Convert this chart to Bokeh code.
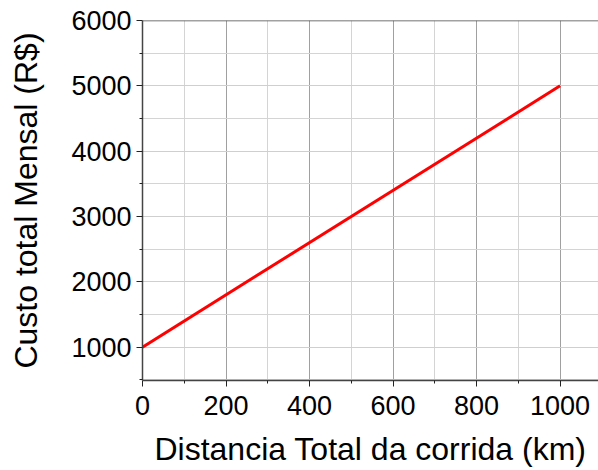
from bokeh.plotting import figure
from bokeh.models import Range1d, FixedTicker, Span
from bokeh.embed import file_html
from bokeh.resources import INLINE

# Data
distance_km = [0, 1000]
monthly_cost = [1000, 5000]

x_major = [0, 200, 400, 600, 800, 1000]
x_minor = [100, 300, 500, 700, 900]
y_major = [1000, 2000, 3000, 4000, 5000, 6000]
y_minor = [500, 1500, 2500, 3500, 4500, 5500]

x_label = "Distancia Total da corrida (km)"
y_label = "Custo total Mensal (R$)"

FONT = "Liberation Sans"
AXIS_COLOR = "#444444"

p = figure(width=598, height=470, output_backend="svg", toolbar_location=None,
           x_range=Range1d(0, 1092), y_range=Range1d(489, 6000),
           min_border_left=142, min_border_right=0, min_border_top=20,
           min_border_bottom=90)
p.outline_line_color = None
p.background_fill_color = "white"
p.border_fill_color = "white"

p.xaxis.ticker = FixedTicker(ticks=x_major, minor_ticks=x_minor)
p.yaxis.ticker = FixedTicker(ticks=y_major, minor_ticks=y_minor)

for ax in (p.xaxis, p.yaxis):
    ax.axis_line_color = AXIS_COLOR
    ax.axis_line_width = 1.5
    ax.major_tick_line_color = "#222222"
    ax.minor_tick_line_color = "#222222"
    ax.major_tick_in = 0
    ax.major_tick_out = 6
    ax.minor_tick_in = 0
    ax.minor_tick_out = 3
    ax.major_label_text_font = FONT
    ax.major_label_text_font_size = "27px"
    ax.major_label_text_color = "black"
    ax.axis_label_text_font = FONT
    ax.axis_label_text_font_size = "32px"
    ax.axis_label_text_font_style = "normal"
    ax.axis_label_text_color = "black"

p.xaxis.axis_label = x_label
p.yaxis.axis_label = y_label
p.xaxis.major_label_standoff = 9
p.yaxis.major_label_standoff = 5
p.xaxis.axis_label_standoff = 13
p.yaxis.axis_label_standoff = 24

p.xgrid.grid_line_color = "#a0a0a0"
p.xgrid.minor_grid_line_color = "#d4d4d4"
p.ygrid.grid_line_color = "#cfcfcf"
p.ygrid.minor_grid_line_color = "#d4d4d4"

top_border = Span(location=y_major[-1], dimension="width", line_color=AXIS_COLOR, line_width=1.5)
p.add_layout(top_border)

p.line(distance_km, monthly_cost, line_color="#ff0000", line_width=3)

open("out.html", "w").write(file_html(p, INLINE))
